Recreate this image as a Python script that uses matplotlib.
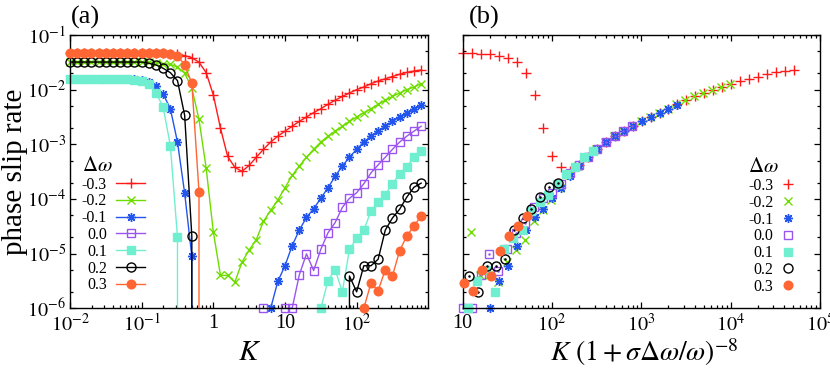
import numpy as np
import matplotlib
matplotlib.use("Agg")
import matplotlib.pyplot as plt
from matplotlib.lines import Line2D
from matplotlib.ticker import FixedLocator, FixedFormatter, LogLocator, NullFormatter

plt.rcParams['font.family'] = ['Liberation Serif', 'DejaVu Serif']
plt.rcParams['mathtext.fontset'] = 'stix'

# ---------------- data ----------------
# coupling strength K, sampled ten points per decade from 1e-2
K = np.logspace(-2, 2.9, 50)

DELTA_OMEGA = [-0.3, -0.2, -0.1, 0.0, 0.1, 0.2, 0.3]
LABELS = ['-0.3', '-0.2', '-0.1', '0.0', '0.1', '0.2', '0.3']
SIGMA_OVER_OMEGA = 1.35   # sigma/omega in the rescaled axis of panel (b)

# phase slip rate for each detuning (0 = no slip observed)
rate_m03 = [0.047] * 12 + [
    0.0466, 0.0462, 0.0450, 0.0444, 0.0419, 0.0385, 0.0317, 0.0205, 0.0080, 0.00197,
    6.0e-4, 3.8e-4, 3.2e-4, 4.1e-4, 5.8e-4, 8.1e-4, 1.10e-3, 1.41e-3, 1.74e-3, 2.14e-3,
    2.63e-3, 3.16e-3, 3.80e-3, 4.47e-3, 5.40e-3, 6.4e-3, 7.5e-3, 8.7e-3, 1.00e-2, 1.12e-2,
    1.28e-2, 1.44e-2, 1.58e-2, 1.74e-2, 1.91e-2, 2.07e-2, 2.19e-2, 2.29e-2]
rate_m02 = [0.032] * 10 + [
    0.0318, 0.0315, 0.031, 0.030, 0.029, 0.026, 0.020, 0.0107, 2.85e-3, 3.7e-4,
    2.5e-5, 4.0e-6, 4.0e-6, 3.0e-6, 7.0e-6, 1.17e-5, 1.8e-5, 3.9e-5, 6.2e-5, 9.6e-5,
    1.6e-4, 2.7e-4, 4.0e-4, 5.8e-4, 8.1e-4, 1.10e-3, 1.41e-3, 1.74e-3, 2.14e-3, 2.63e-3,
    3.16e-3, 3.80e-3, 4.47e-3, 5.40e-3, 6.4e-3, 7.5e-3, 8.7e-3, 1.00e-2, 1.12e-2, 1.28e-2]
rate_m01 = [0.0155] * 10 + [
    0.0150, 0.0140, 0.0117, 8.3e-3, 4.5e-3, 1.1e-3, 1.28e-4, 8.9e-6] + [0.0] * 10 + [
    1.0e-6, 3.1e-6, 6.0e-6, 1.4e-5, 2.7e-5, 4.6e-5, 6.6e-5, 1.03e-4, 1.6e-4, 2.6e-4,
    4.0e-4, 5.8e-4, 8.1e-4, 1.10e-3, 1.41e-3, 1.74e-3, 2.14e-3, 2.63e-3, 3.16e-3, 3.80e-3,
    4.47e-3, 5.3e-3]
rate_p00 = [0.0] * 27 + [
    1.0e-6, 0.0, 0.0, 1.0e-6, 1.0e-6, 4.1e-6, 9.9e-6, 4.9e-6, 1.2e-5, 2.4e-5,
    3.7e-5, 7.0e-5, 1.03e-4, 1.3e-4, 1.9e-4, 3.0e-4, 4.2e-4, 5.8e-4, 8.1e-4, 1.10e-3,
    1.41e-3, 1.74e-3, 2.14e-3]
rate_p01 = [0.0155] * 9 + [
    0.0152, 0.0145, 0.0125, 8.8e-3, 4.8e-3, 9.5e-4, 2.0e-5] + [0.0] * 19 + [
    1.0e-6, 3.2e-6, 5.1e-6, 2.0e-6, 1.2e-5, 1.9e-5, 2.7e-5, 6.0e-5, 8.8e-5, 1.2e-4,
    1.9e-4, 2.9e-4, 3.9e-4, 5.8e-4, 7.7e-4]
rate_p02 = [0.032] * 11 + [
    0.0304, 0.0283, 0.0246, 0.0205, 0.0146, 3.4e-3, 2.1e-5] + [0.0] * 21 + [
    3.9e-6, 2.0e-6, 6.0e-6, 6.0e-6, 7.9e-6, 2.7e-5, 4.5e-5, 6.5e-5, 1.08e-4, 1.64e-4,
    1.95e-4]
rate_p03 = [0.047] * 14 + [
    0.044, 0.0415, 0.0283, 0.0131, 1.36e-4] + [0.0] * 22 + [
    1.0e-6, 2.9e-6, 2.1e-6, 5.1e-6, 3.9e-6, 1.14e-5, 2.1e-5, 3.2e-5, 4.9e-5]

RATES = [rate_m03, rate_m02, rate_m01, rate_p00, rate_p01, rate_p02, rate_p03]

XTICKS_A = [1e-2, 1e-1, 1, 10, 1e2]
XTICKLABELS_A = [r'$10^{-2}$', r'$10^{-1}$', '1', '10', r'$10^{2}$']
XTICKS_B = [10, 1e2, 1e3, 1e4, 1e5]
XTICKLABELS_B = ['10', r'$10^{2}$', r'$10^{3}$', r'$10^{4}$', r'$10^{5}$']
YTICKS = [1e-6, 1e-5, 1e-4, 1e-3, 1e-2, 1e-1]
YTICKLABELS = [r'$10^{-6}$', r'$10^{-5}$', r'$10^{-4}$', r'$10^{-3}$', r'$10^{-2}$', r'$10^{-1}$']

# ---------------- style ----------------
COLORS = ['#ff1a1a', '#6fdc00', '#2255ee', '#9955ee', '#70efd0', '#000000', '#ff6633']
MARKERS = ['+', 'x', (8, 2, 0), 's', 's', 'o', 'o']
FILLED = [True, True, True, False, True, False, True]
MSIZE = [6.5, 5.5, 6.5, 5.8, 5.8, 6.5, 6.2]

XLIM_A = (1e-2, 1e3)
XLIM_B = (10, 1e5)
YLIM = (1e-6, 1e-1)

fig = plt.figure(figsize=(8.3, 3.72), dpi=100)
ax_a = fig.add_axes([70 / 830, 1 - 308.3 / 372, 358.3 / 830, 273.3 / 372])
ax_b = fig.add_axes([462.7 / 830, 1 - 308.3 / 372, 357.3 / 830, 273.3 / 372])


def marker_kw(k):
    c = COLORS[k]
    kw = dict(marker=MARKERS[k], markersize=MSIZE[k], markeredgewidth=1.0,
              markeredgecolor=c, color=c)
    kw['markerfacecolor'] = c if FILLED[k] else 'none'
    return kw


for ax in (ax_a, ax_b):
    ax.set_xscale('log')
    ax.set_yscale('log', nonpositive='clip')
    ax.set_ylim(*YLIM)
    ax.yaxis.set_major_locator(FixedLocator(YTICKS))
    ax.yaxis.set_minor_locator(LogLocator(base=10, subs=(2.0, 5.0)))
    ax.yaxis.set_minor_formatter(NullFormatter())
    ax.xaxis.set_minor_locator(LogLocator(base=10, subs=np.arange(2, 10)))
    ax.xaxis.set_minor_formatter(NullFormatter())
    ax.tick_params(which='both', direction='in', top=True, right=True,
                   labelsize=14.5, width=0.9)
    ax.tick_params(axis='x', pad=4.0)
    ax.tick_params(axis='y', pad=3.0)
    ax.tick_params(which='major', length=4)
    ax.tick_params(which='minor', length=2)
    for s in ax.spines.values():
        s.set_linewidth(1.0)

ax_a.set_xlim(*XLIM_A)
ax_a.xaxis.set_major_locator(FixedLocator(XTICKS_A))
ax_a.xaxis.set_major_formatter(FixedFormatter(XTICKLABELS_A))
ax_a.yaxis.set_major_formatter(FixedFormatter(YTICKLABELS))

ax_b.set_xlim(*XLIM_B)
ax_b.xaxis.set_major_locator(FixedLocator(XTICKS_B))
ax_b.xaxis.set_major_formatter(FixedFormatter(XTICKLABELS_B))
ax_b.yaxis.set_major_formatter(NullFormatter())

handles_a, handles_b = [], []
for k, (dw, vals) in enumerate(zip(DELTA_OMEGA, RATES)):
    v = np.asarray(vals, dtype=float)
    c = COLORS[k]
    z = 2 + 0.1 * k
    # panel (a): lines + points
    ax_a.plot(K, v, color=c, lw=1.0, zorder=z, clip_on=True)
    ma = v >= YLIM[0] * (1 - 1e-9)
    ax_a.plot(K[ma], v[ma], ls='none', zorder=z + 0.05, clip_on=False, **marker_kw(k))
    # panel (b): rescaled coupling, points only
    xb = K * (1 + SIGMA_OVER_OMEGA * dw) ** -8
    mb = ma & (xb >= XLIM_B[0] * (1 - 1e-9)) & (xb <= XLIM_B[1])
    ax_b.plot(xb[mb], v[mb], ls='none', zorder=z + 0.05, clip_on=False, **marker_kw(k))
    if not FILLED[k]:
        ax_b.plot(xb[mb], v[mb], ls='none', marker='.', markersize=1.6, color=c,
                  zorder=z + 0.06, clip_on=False)
    handles_a.append(Line2D([], [], lw=1.0, **marker_kw(k)))
    handles_b.append(Line2D([], [], ls='none', **marker_kw(k)))

leg_a = ax_a.legend(handles_a, LABELS, title=r'$\Delta\omega$', loc='lower left',
                    bbox_to_anchor=(0.01, 0.025), frameon=False, markerfirst=False,
                    fontsize=11.5, title_fontsize=15, handlelength=1.8,
                    handletextpad=0.6, labelspacing=0.05, borderpad=0.0,
                    alignment='left')
leg_b = ax_b.legend(handles_b, LABELS, title=r'$\Delta\omega$', loc='lower right',
                    bbox_to_anchor=(0.95, 0.02), frameon=False, markerfirst=False,
                    fontsize=11.5, title_fontsize=15, handlelength=0.8,
                    handletextpad=0.5, labelspacing=0.05, borderpad=0.0,
                    alignment='left')

ax_a.set_ylabel('phase slip rate', fontsize=21)
ax_a.yaxis.set_label_coords(-0.118, 0.5)
ax_a.set_xlabel(r'$K$', fontsize=21)
ax_a.xaxis.set_label_coords(0.5, -0.115)
ax_a.xaxis.label.set_va('top')
ax_b.set_xlabel(r'$K\ (1+\sigma\Delta\omega/\omega)^{-8}$', fontsize=20)
ax_b.xaxis.set_label_coords(0.507, -0.1)
ax_b.xaxis.label.set_va('top')

fig.text(71 / 830, 1 - 17 / 372, '(a)', fontsize=19, ha='left', va='center')
fig.text(469 / 830, 1 - 17 / 372, '(b)', fontsize=19, ha='left', va='center')

fig.savefig('out.png', dpi=100)
